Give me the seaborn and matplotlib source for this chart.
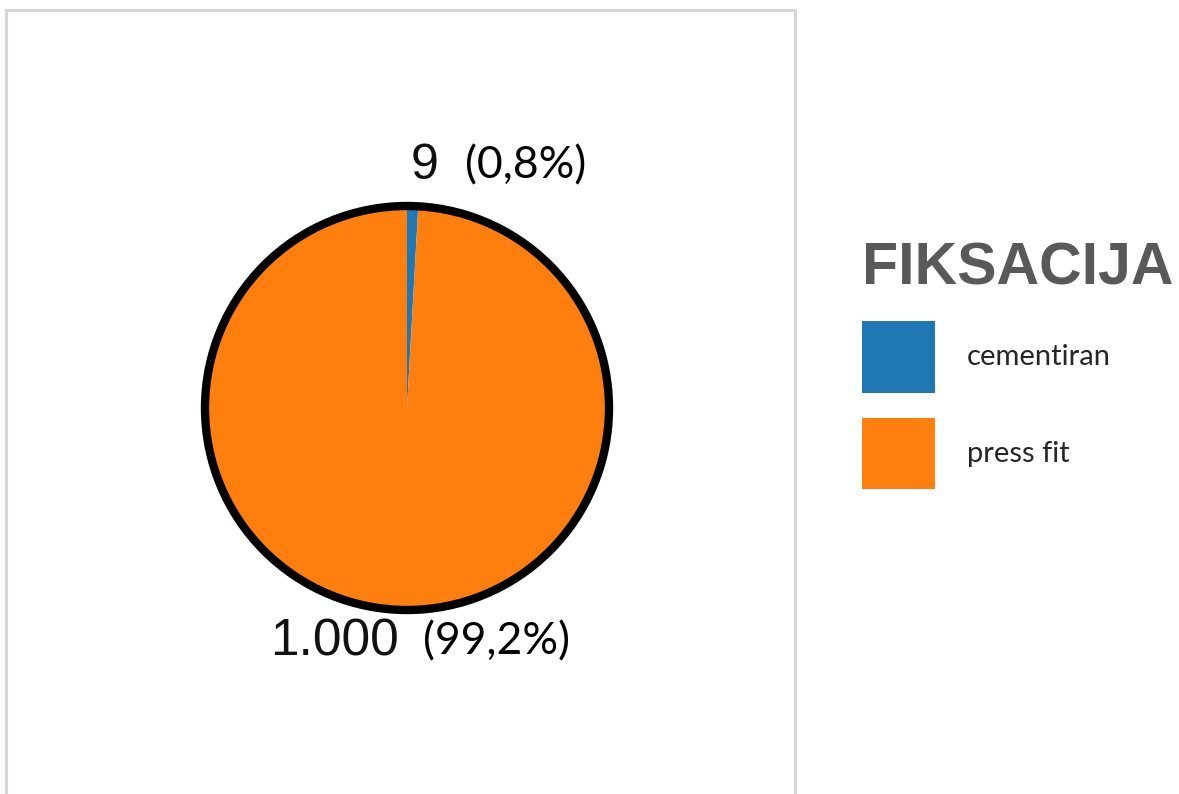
import matplotlib
matplotlib.use("Agg")
import matplotlib.pyplot as plt
import seaborn as sns
from matplotlib.patches import Rectangle, Circle, Patch

# Data
categories = ["cementiran", "press fit"]
counts = [9, 1000]
percents = ["0,8%", "99,2%"]
legend_title = "FIKSACIJA"


def fmt_count(v):
    return f"{v:,}".replace(",", ".")


def main():
    sns.set_theme(style="white")
    colors = sns.color_palette("tab10")[:2]

    W, H = 1179, 794
    fig = plt.figure(figsize=(W / 100, H / 100), dpi=100)
    fig.patch.set_facecolor("white")

    # light grey frame around the pie area
    fig.patches.append(Rectangle((6 / W, -0.05), 789 / W, (H - 10) / H + 0.05,
                                 transform=fig.transFigure, fill=False,
                                 edgecolor="#d6d6d6", linewidth=2.2))

    # pie axes: centre (407, 408) px
    cx, cy, r = 407, 408, 250
    ax = fig.add_axes([(cx - r) / W, (H - cy - r) / H, 2 * r / W, 2 * r / H])
    ax.pie(counts, colors=colors, startangle=90, counterclock=False,
           radius=1.01, wedgeprops=dict(linewidth=0))
    ax.add_patch(Circle((0, 0), 1.01, fill=False, edgecolor="black", linewidth=6))
    ax.set_xlim(-r / 200, r / 200)
    ax.set_ylim(-r / 200, r / 200)
    ax.set_aspect("equal")
    ax.axis("off")

    # value labels
    ax.text(0.02, 1.21, fmt_count(counts[0]), fontsize=36, family="Liberation Sans",
            ha="left", va="center", color="#111111")
    ax.text(0.29, 1.21, f"({percents[0]})", fontsize=32, family="Lato",
            ha="left", va="center", color="black")
    ax.text(-0.685, -1.17, fmt_count(counts[1]), fontsize=37, family="Liberation Sans",
            ha="left", va="center", color="#111111")
    ax.text(0.08, -1.17, f"({percents[1]})", fontsize=32, family="Lato",
            ha="left", va="center", color="black")

    # legend
    handles = [Patch(facecolor=c, edgecolor="none") for c in colors]
    leg = fig.legend(handles, categories, loc="upper left",
                     bbox_to_anchor=(847 / W, (H - 227) / H),
                     frameon=False, fontsize=21, handlelength=2.5, handleheight=3.4,
                     handletextpad=1.1, labelspacing=0.85, borderpad=0,
                     title=legend_title, alignment="left",
                     title_fontproperties=dict(family="Liberation Sans",
                                               weight="bold", size=42.5))
    leg.get_title().set_color("#595959")
    for t in leg.get_texts():
        t.set_family("Lato")

    fig.savefig("out.png", dpi=100, facecolor="white")


if __name__ == "__main__":
    main()
